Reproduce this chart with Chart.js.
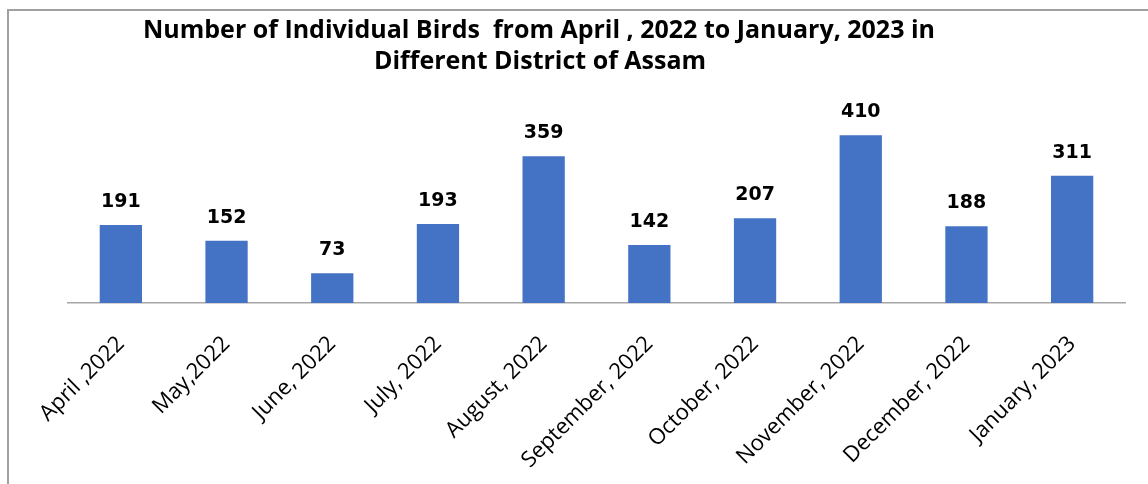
<!DOCTYPE html>
<html>
<head>
<meta charset="utf-8">
<script src="https://cdn.jsdelivr.net/npm/chart.js@4"></script>
<style>
  html, body { margin: 0; padding: 0; background: #fff; }
  #wrap { position: relative; width: 1148px; height: 484px; }
  #frame { position: absolute; left: 7px; top: 9px; right: 0; bottom: 0;
           border-left: 2px solid #a0a0a0; border-top: 2px solid #a0a0a0; }
  canvas { position: absolute; left: 0; top: 0; }
</style>
</head>
<body>
<div id="wrap">
  <div id="frame"></div>
  <canvas id="myChart" width="1148" height="484"></canvas>
</div>
<script>
const months = ["April ,2022", "May,2022", "June, 2022", "July, 2022", "August, 2022",
  "September, 2022", "October, 2022", "November, 2022", "December, 2022", "January, 2023"];
const birds = [191, 152, 73, 193, 359, 142, 207, 410, 188, 311];
const titleLines = ["Number of Individual Birds  from April , 2022 to January, 2023 in",
  "Different District of Assam"];

// title + value labels drawn by hand (no datalabels plugin available)
const extras = {
  id: "extras",
  afterDatasetsDraw(chart) {
    const ctx = chart.ctx;
    ctx.save();
    ctx.fillStyle = "#000";
    ctx.textAlign = "center";
    ctx.textBaseline = "alphabetic";
    ctx.font = "bold 25px 'Open Sans'";
    ctx.fillText(titleLines[0], 539, 38);
    ctx.fillText(titleLines[1], 540, 69);

    ctx.font = "bold 19px 'DejaVu Sans'";
    const meta = chart.getDatasetMeta(0);
    meta.data.forEach((bar, i) => {
      ctx.fillText(birds[i], bar.x, bar.y - 18);
    });
    ctx.restore();
  }
};

const ctx = document.getElementById("myChart").getContext("2d");
new Chart(ctx, {
  type: "bar",
  data: {
    labels: months,
    datasets: [{
      data: birds,
      backgroundColor: "#4472C4",
      categoryPercentage: 1,
      barPercentage: 0.4
    }]
  },
  options: {
    responsive: false,
    animation: false,
    layout: { padding: { left: 68, right: 23, top: 119, bottom: 0 } },
    plugins: { legend: { display: false }, title: { display: false }, tooltip: { enabled: false } },
    scales: {
      y: { display: false, min: 0, max: 450 },
      x: {
        grid: { display: false },
        border: { color: "#a6a6a6", width: 1.5 },
        afterFit(scale) { scale.height = 181; },
        ticks: {
          color: "#000",
          font: { family: "'Open Sans'", size: 22 },
          minRotation: 45,
          maxRotation: 45,
          padding: 20
        }
      }
    }
  },
  plugins: [extras]
});
</script>
</body>
</html>
